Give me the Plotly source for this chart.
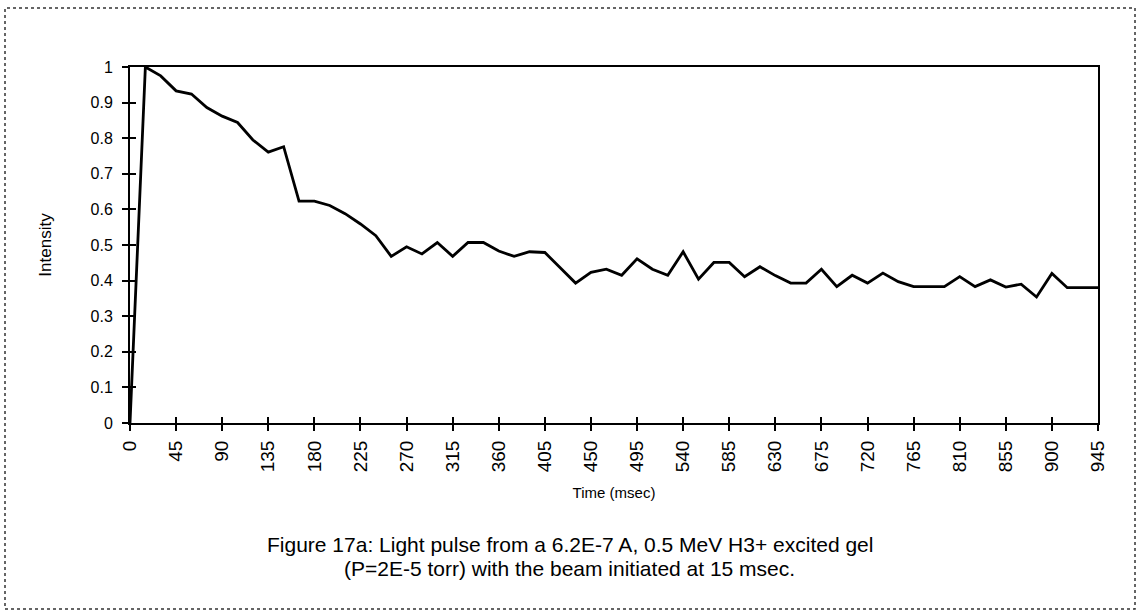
import plotly.graph_objects as go

# Light pulse intensity sampled every 15 msec
time_ms = [15 * i for i in range(64)]
intensity = [
    0.0, 1.0, 0.975, 0.933, 0.924, 0.886, 0.862, 0.844, 0.795, 0.761,
    0.776, 0.623, 0.623, 0.611, 0.588, 0.559, 0.526, 0.468, 0.495, 0.475,
    0.507, 0.468, 0.507, 0.507, 0.483, 0.468, 0.481, 0.479, 0.436, 0.393,
    0.423, 0.432, 0.415, 0.461, 0.432, 0.415, 0.481, 0.404, 0.451, 0.451,
    0.411, 0.439, 0.414, 0.393, 0.393, 0.432, 0.383, 0.415, 0.393, 0.421,
    0.397, 0.383, 0.383, 0.383, 0.411, 0.383, 0.402, 0.382, 0.390, 0.354,
    0.420, 0.380, 0.380, 0.380,
]
x_ticks = list(range(0, 946, 45))
y_ticks = [round(0.1 * k, 1) for k in range(11)]

caption_lines = [
    "Figure 17a: Light pulse from a 6.2E-7 A, 0.5 MeV H3+ excited gel",
    "(P=2E-5 torr) with the beam initiated at 15 msec.",
]

FONT = "Arial, 'Liberation Sans', sans-serif"
W, H = 1139, 614
L, R, T, B = 130, 41, 67, 191

fig = go.Figure()
fig.add_trace(go.Scatter(
    x=time_ms, y=intensity, mode="lines",
    line=dict(color="black", width=2.8), showlegend=False, hoverinfo="skip",
))
# companion trace so the inner tick axes get drawn
fig.add_trace(go.Scatter(
    x=time_ms, y=intensity, mode="lines", xaxis="x2", yaxis="y2",
    line=dict(color="rgba(0,0,0,0)", width=0), showlegend=False, hoverinfo="skip",
))

axis_common = dict(showgrid=False, zeroline=False, fixedrange=True)

fig.update_layout(
    width=W, height=H,
    margin=dict(l=L, r=R, t=T, b=B),
    paper_bgcolor="white", plot_bgcolor="white",
    font=dict(family=FONT, color="black"),
    xaxis=dict(
        **axis_common, range=[0, 945], tickmode="array", tickvals=x_ticks,
        ticktext=[str(v) for v in x_ticks], tickangle=-90,
        ticks="outside", ticklen=6, tickwidth=1.5, tickcolor="black",
        tickfont=dict(size=19, family=FONT), ticklabelstandoff=2,
        showline=True, linecolor="black", linewidth=2, mirror=True,
        title=dict(text="Time (msec)", font=dict(size=15, family=FONT), standoff=16),
    ),
    yaxis=dict(
        **axis_common, range=[0, 1], tickmode="array", tickvals=y_ticks,
        ticktext=[f"{v:g}" for v in y_ticks],
        ticks="outside", ticklen=6, tickwidth=1.5, tickcolor="black",
        tickfont=dict(size=16, family=FONT), ticklabelstandoff=6,
        showline=True, linecolor="black", linewidth=2, mirror=True,
        title=dict(text="Intensity", font=dict(size=17, family=FONT), standoff=35),
    ),
    xaxis2=dict(
        **axis_common, range=[0, 945], overlaying="x", anchor="y2",
        tickmode="array", tickvals=x_ticks, showticklabels=False,
        ticks="inside", ticklen=6, tickwidth=1.5, tickcolor="black", showline=False,
    ),
    yaxis2=dict(
        **axis_common, range=[0, 1], overlaying="y", anchor="x2", side="left",
        tickmode="array", tickvals=y_ticks, showticklabels=False,
        ticks="inside", ticklen=6, tickwidth=1.5, tickcolor="black", showline=False,
    ),
)

# caption beneath the chart
pw, ph = W - L - R, H - T - B
for k, text in enumerate(caption_lines):
    fig.add_annotation(
        text=text, xref="paper", yref="paper",
        x=(569.5 - L) / pw, y=(H - B - (544 + 24 * k)) / ph,
        xanchor="center", yanchor="middle", showarrow=False,
        font=dict(size=21, family=FONT, color="black"),
    )

# dotted outer frame
fig.add_shape(
    type="rect", xref="paper", yref="paper",
    x0=(5 - L) / pw, x1=(1135 - L) / pw,
    y0=(H - B - 609) / ph, y1=(H - B - 8) / ph,
    line=dict(color="#333", width=1.5, dash="dot"), layer="below",
)

fig.write_html("out.html")
